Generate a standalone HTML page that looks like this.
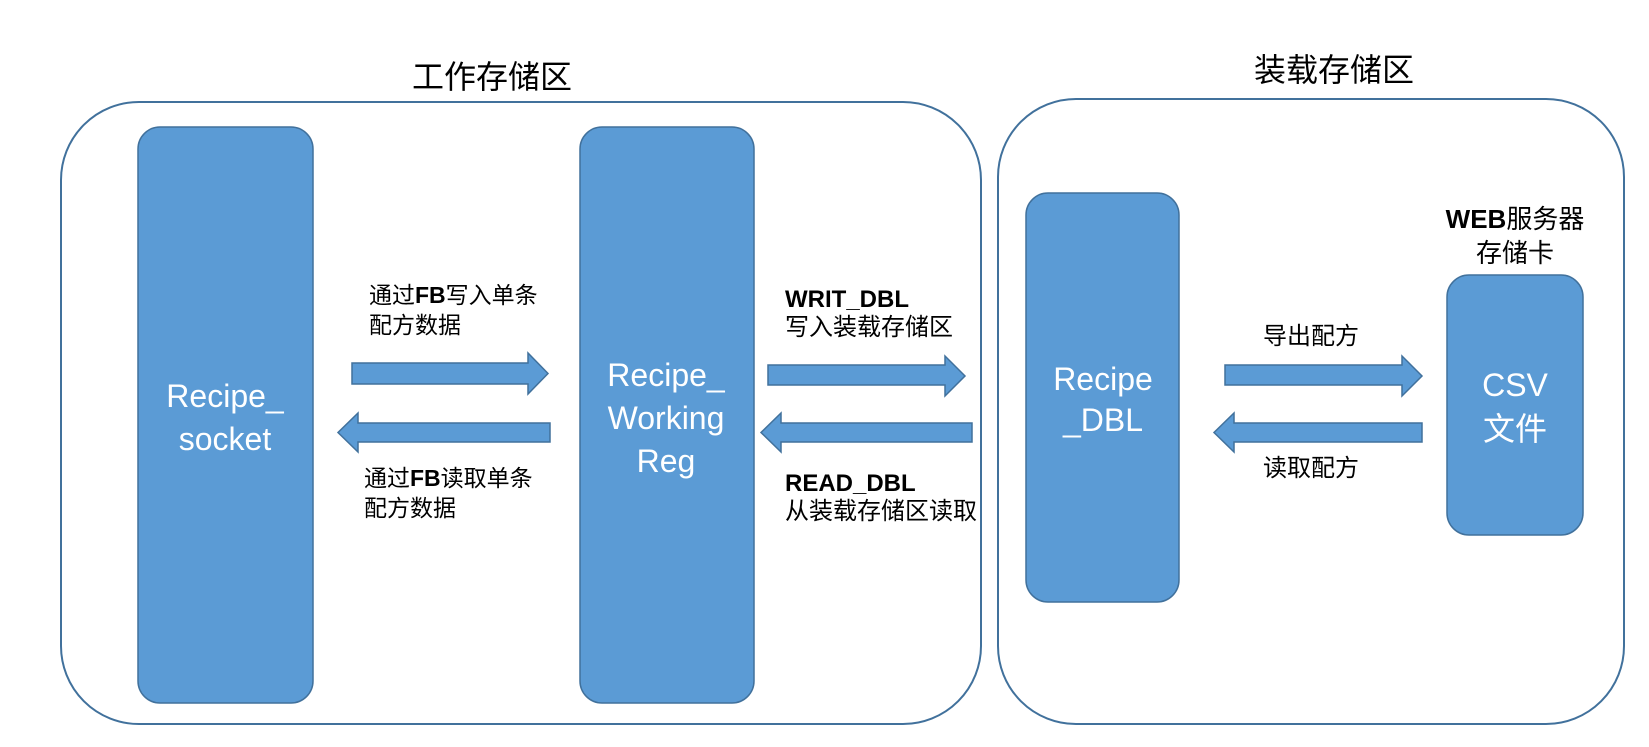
<!DOCTYPE html>
<html><head><meta charset="utf-8"><style>
html,body{margin:0;padding:0;background:#fff;}
svg text{font-family:"Liberation Sans","Noto Sans CJK SC",sans-serif;}
</style></head><body>
<svg width="1649" height="742" viewBox="0 0 1649 742" xmlns="http://www.w3.org/2000/svg">
<rect x="61" y="102" width="920" height="622" rx="78" ry="78" fill="#fff" stroke="#41719C" stroke-width="2"/>
<rect x="998" y="99" width="626" height="625" rx="78" ry="78" fill="#fff" stroke="#41719C" stroke-width="2"/>
<text x="492" y="88" font-size="32" text-anchor="middle">工作存储区</text>
<text x="1334" y="81" font-size="32" text-anchor="middle">装载存储区</text>
<g fill="#5B9BD5" stroke="#41719C" stroke-width="1.5">
<rect x="138" y="127" width="175" height="576" rx="22"/>
<rect x="580" y="127" width="174" height="576" rx="22"/>
<rect x="1026" y="193" width="153" height="409" rx="22"/>
<rect x="1447" y="275" width="136" height="260" rx="22"/>
<polygon points="352,363 528,363 528,353 548,373.5 528,394 528,384 352,384"/>
<polygon points="550,423 358,423 358,413 338,432.5 358,452 358,442 550,442"/>
<polygon points="768,365 945,365 945,356 965,376 945,396 945,385 768,385"/>
<polygon points="972,423 781,423 781,413 761,432.5 781,452 781,442 972,442"/>
<polygon points="1225,365 1402,365 1402,356 1422,376 1402,396 1402,385 1225,385"/>
<polygon points="1422,423 1234,423 1234,413 1214,432.5 1234,452 1234,442 1422,442"/>
</g>
<g fill="#fff" font-size="32" text-anchor="middle">
<text x="225" y="407">Recipe_</text><text x="225" y="450">socket</text>
<text x="666" y="386">Recipe_</text><text x="666" y="429">Working</text><text x="666" y="472">Reg</text>
<text x="1103" y="390">Recipe</text><text x="1103" y="431">_DBL</text>
<text x="1515" y="396">CSV</text><text x="1515" y="440">文件</text>
</g>
<g font-size="23" fill="#000">
<text x="369" y="303">通过<tspan font-weight="bold">FB</tspan>写入单条</text>
<text x="369" y="333">配方数据</text>
<text x="364" y="486">通过<tspan font-weight="bold">FB</tspan>读取单条</text>
<text x="364" y="516">配方数据</text>
</g>
<g font-size="24" fill="#000">
<text x="785" y="307" font-weight="bold">WRIT_DBL</text>
<text x="785" y="335">写入装载存储区</text>
<text x="785" y="491" font-weight="bold">READ_DBL</text>
<text x="785" y="519">从装载存储区读取</text>
<text x="1263" y="344">导出配方</text>
<text x="1263" y="476">读取配方</text>
<text x="1515" y="228" text-anchor="middle" font-size="26"><tspan font-weight="bold">WEB</tspan>服务器</text>
<text x="1515" y="262" text-anchor="middle" font-size="26">存储卡</text>
</g>
</svg>
</body></html>
